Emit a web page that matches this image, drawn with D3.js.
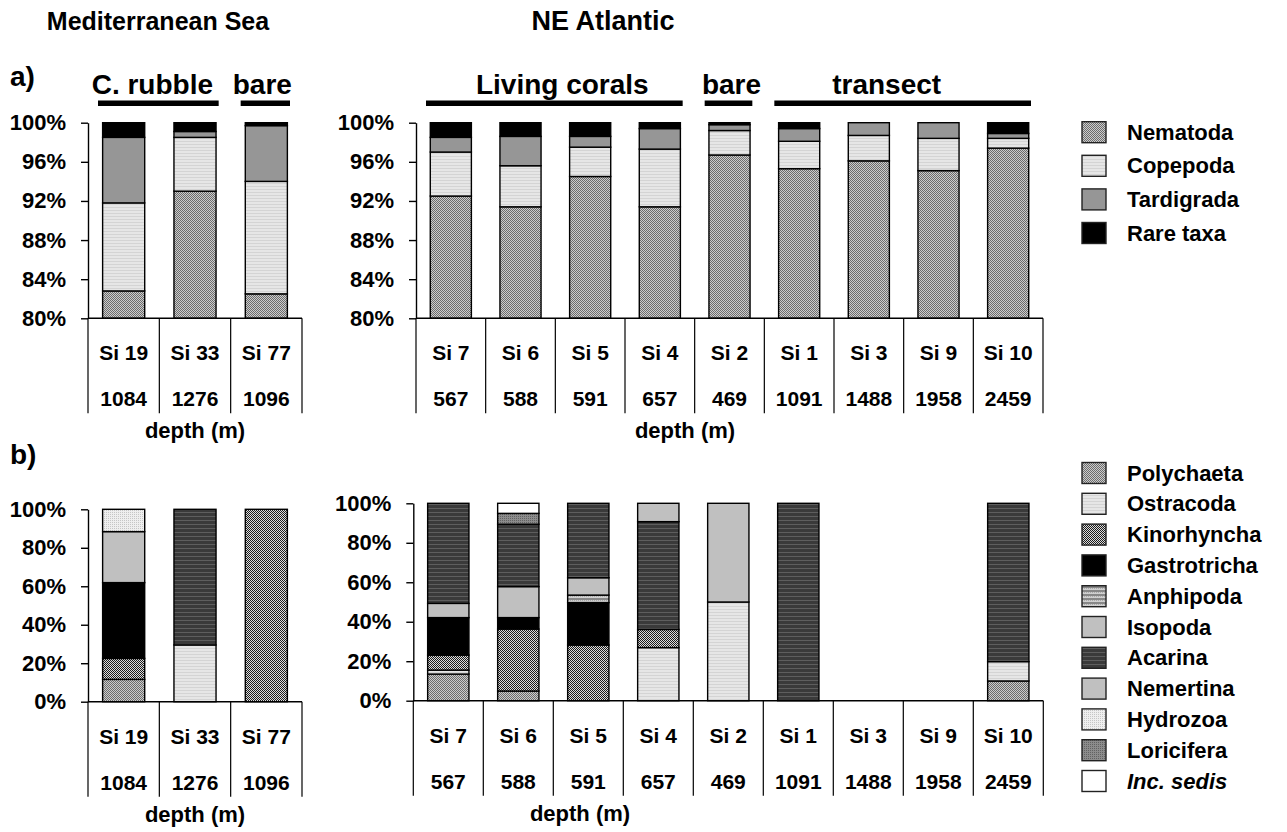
<!DOCTYPE html>
<html><head><meta charset="utf-8">
<script src="https://cdn.jsdelivr.net/npm/d3@7/dist/d3.min.js"></script>
<style>
body{margin:0;background:#fff}
text{font-family:"Liberation Sans",Arial,sans-serif;font-weight:bold;fill:#000}
</style>
</head><body>
<svg id="chart" width="1287" height="832"></svg>
<script>
// Stations (Mediterranean Sea | NE Atlantic) and their depths (m)
const medSites  = ["Si 19","Si 33","Si 77"];
const medDepths = ["1084","1276","1096"];
const atlSites  = ["Si 7","Si 6","Si 5","Si 4","Si 2","Si 1","Si 3","Si 9","Si 10"];
const atlDepths = ["567","588","591","657","469","1091","1488","1958","2459"];

// (a) relative abundance of the main taxa (%), order: Si 19, Si 33, Si 77 | Si 7 ... Si 10
const nematoda   = [82.8, 93.0, 82.5, 92.5, 91.4, 94.5, 91.4, 96.7, 95.3, 96.1, 95.1, 97.4];
const copepoda   = [ 9.0,  5.5, 11.5,  4.5,  4.2,  3.0,  5.9,  2.5,  2.8,  2.6,  3.3,  1.0];
const tardigrada = [ 6.7,  0.6,  5.7,  1.5,  3.0,  1.1,  2.1,  0.6,  1.3,  1.3,  1.6,  0.5];
const rareTaxa   = [ 1.5,  0.9,  0.3,  1.5,  1.4,  1.4,  0.6,  0.2,  0.6,  0.0,  0.0,  1.1];

// (b) composition of the rare taxa (%)
const polychaeta   = [11.6,  0.0,   0.0, 13.5,  4.9,  0.0,  0.0,  0.0,   0.0, 0, 0, 10.0];
const ostracoda    = [ 0.0, 29.5,   0.0,  2.0,  0.0,  0.0, 26.9, 50.0,   0.0, 0, 0,  9.8];
const kinorhyncha  = [10.9,  0.0, 100.0,  7.6, 31.4, 28.2,  9.2,  0.0,   0.0, 0, 0,  0.0];
const gastrotricha = [39.4,  0.0,   0.0, 19.0,  5.8, 21.5,  0.0,  0.0,   0.0, 0, 0,  0.0];
const anphipoda    = [ 0.0,  0.0,   0.0,  0.0,  0.0,  3.8,  0.0,  0.0,   0.0, 0, 0,  0.0];
const isopoda      = [26.5,  0.0,   0.0,  7.2, 15.7,  8.8,  0.0, 50.0,   0.0, 0, 0,  0.0];
const acarina      = [ 0.0, 70.5,   0.0, 50.7, 31.6, 37.7, 54.6,  0.0, 100.0, 0, 0, 80.2];
const nemertina    = [ 0.0,  0.0,   0.0,  0.0,  0.0,  0.0,  9.3,  0.0,   0.0, 0, 0,  0.0];
const hydrozoa     = [11.6,  0.0,   0.0,  0.0,  0.0,  0.0,  0.0,  0.0,   0.0, 0, 0,  0.0];
const loricifera   = [ 0.0,  0.0,   0.0,  0.0,  5.5,  0.0,  0.0,  0.0,   0.0, 0, 0,  0.0];
const incSedis     = [ 0.0,  0.0,   0.0,  0.0,  5.1,  0.0,  0.0,  0.0,   0.0, 0, 0,  0.0];

// Axis ticks
const ticksA = [80, 84, 88, 92, 96, 100];
const ticksB = [0, 20, 40, 60, 80, 100];

// Habitat groups shown above panel (a)
const groupsMed = [{label:"C. rubble", from:"Si 19", to:"Si 33"}, {label:"bare", from:"Si 77", to:"Si 77"}];
const groupsAtl = [{label:"Living corals", from:"Si 7", to:"Si 4"}, {label:"bare", from:"Si 2", to:"Si 2"},
                   {label:"transect", from:"Si 1", to:"Si 10"}];

const taxaA = [
  {name:"Nematoda",   values:nematoda,   fill:"url(#pNem)"},
  {name:"Copepoda",   values:copepoda,   fill:"url(#pLight)"},
  {name:"Tardigrada", values:tardigrada, fill:"#969696"},
  {name:"Rare taxa",  values:rareTaxa,   fill:"#000"}
];
const taxaB = [
  {name:"Polychaeta",   values:polychaeta,   fill:"url(#pNem)"},
  {name:"Ostracoda",    values:ostracoda,    fill:"url(#pLight)"},
  {name:"Kinorhyncha",  values:kinorhyncha,  fill:"url(#pKino)"},
  {name:"Gastrotricha", values:gastrotricha, fill:"#000"},
  {name:"Anphipoda",    values:anphipoda,    fill:"url(#pAnph)"},
  {name:"Isopoda",      values:isopoda,      fill:"#c0c0c0"},
  {name:"Acarina",      values:acarina,      fill:"url(#pAcar)"},
  {name:"Nemertina",    values:nemertina,    fill:"#c0c0c0"},
  {name:"Hydrozoa",     values:hydrozoa,     fill:"url(#pHydro)"},
  {name:"Loricifera",   values:loricifera,   fill:"url(#pLori)"},
  {name:"Inc. sedis",   values:incSedis,     fill:"#fff", italic:true}
];

const svg = d3.select("#chart");
const defs = svg.append("defs");

// Texture fills
function pattern(id, w, h, bg, cells) {
  const p = defs.append("pattern").attr("id", id).attr("patternUnits", "userSpaceOnUse")
    .attr("width", w).attr("height", h);
  p.append("rect").attr("width", w).attr("height", h).attr("fill", bg);
  cells.forEach(c => p.append("rect").attr("x", c[0]).attr("y", c[1]).attr("width", c[2]).attr("height", c[3]).attr("fill", c[4]));
}
pattern("pNem", 2, 2, "#cccccc", [[0,0,1,1,"#6c6c6c"],[1,1,1,1,"#6c6c6c"]]);
pattern("pLight", 4, 3, "#e6e6e6", [[0,0,4,1,"#d4d4d4"]]);
pattern("pKino", 2, 2, "#dcdcdc", [[0,0,1,1,"#1c1c1c"],[1,1,1,1,"#1c1c1c"]]);
pattern("pAnph", 2, 4, "#d0d0d0", [[0,2,2,2,"#888"],[0,0,1,1,"#aaa"]]);
pattern("pAcar", 4, 4, "#3a3a3a", [[0,0,4,1,"#5e5e5e"]]);
pattern("pHydro", 2, 2, "#efefef", [[0,0,1,1,"#c6c6c6"]]);
pattern("pLori", 2, 2, "#8c8c8c", [[0,0,1,1,"#626262"]]);

function rowsFor(taxa, start, sites) {
  return sites.map((s, i) => {
    const r = {site: s};
    taxa.forEach(t => r[t.name] = t.values[start + i]);
    return r;
  });
}

function drawPanel(o) {
  const x = d3.scaleBand().domain(o.sites).range([o.x0, o.x1]);
  const y = d3.scaleLinear().domain(o.domain).range([o.yBot, o.yTop]).clamp(true);
  const bw = x.bandwidth();
  const barW = bw * 0.59;
  const g = svg.append("g");
  const stack = d3.stack().keys(o.taxa.map(t => t.name))(o.rows);
  stack.forEach((layer, li) => {
    g.append("g").selectAll("rect")
      .data(layer.filter(d => d[1] - d[0] > 0 && y(d[0]) - y(d[1]) > 0))
      .join("rect")
      .attr("x", d => x(d.data.site) + (bw - barW) / 2)
      .attr("width", barW)
      .attr("y", d => y(d[1]))
      .attr("height", d => y(d[0]) - y(d[1]))
      .attr("fill", o.taxa[li].fill)
      .attr("stroke", "#000").attr("stroke-width", 1.4);
  });
  // y axis
  const ax = g.append("g").attr("transform", `translate(${o.x0},0)`)
    .call(d3.axisLeft(y).tickValues(o.ticks).tickFormat(d => d + "%").tickSize(7).tickSizeOuter(0).tickPadding(15));
  ax.attr("font-family", null).attr("font-size", null);
  ax.selectAll("text").style("font-size", "22px");
  ax.selectAll("line,path").attr("stroke", "#000").attr("stroke-width", 1.4);
  // category table below the axis
  g.append("line").attr("x1", o.x0).attr("x2", o.x1).attr("y1", o.yBot).attr("y2", o.yBot)
    .attr("stroke", "#000").attr("stroke-width", 1.4);
  const edges = o.sites.map(s => x(s)).concat([o.x1]);
  g.selectAll(".cell").data(edges).join("line")
    .attr("x1", d => d).attr("x2", d => d).attr("y1", o.yBot).attr("y2", o.yBot + 95)
    .attr("stroke", "#000").attr("stroke-width", 1.2);
  g.selectAll(".site").data(o.sites).join("text")
    .attr("x", d => x(d) + bw / 2).attr("y", o.yBot + 42).attr("text-anchor", "middle")
    .style("font-size", "21px").text(d => d);
  g.selectAll(".depth").data(o.depths).join("text")
    .attr("x", (d, i) => x(o.sites[i]) + bw / 2).attr("y", o.yBot + 88).attr("text-anchor", "middle")
    .style("font-size", "21px").text(d => d);
  g.append("text").attr("x", o.depthX).attr("y", o.yBot + 120).attr("text-anchor", "middle")
    .style("font-size", "22px").text("depth (m)");
  // habitat groups
  (o.groups || []).forEach(gr => {
    const a = x(gr.from) + 10, b = x(gr.to) + bw - 12;
    g.append("rect").attr("x", a).attr("y", 100.5).attr("width", b - a).attr("height", 5.5).attr("fill", "#000");
    g.append("text").attr("x", (a + b) / 2 + gr.dx).attr("y", 94).attr("text-anchor", "middle")
      .style("font-size", "28px").text(gr.label);
  });
}

groupsMed[0].dx = -6; groupsMed[1].dx = -3;
groupsAtl[0].dx = 8; groupsAtl[1].dx = 3; groupsAtl[2].dx = -16;

drawPanel({sites: medSites, depths: medDepths, taxa: taxaA, rows: rowsFor(taxaA, 0, medSites),
  x0: 88, x1: 302, yTop: 122.7, yBot: 318.3, domain: [80, 100], ticks: ticksA, depthX: 195, groups: groupsMed});
drawPanel({sites: atlSites, depths: atlDepths, taxa: taxaA, rows: rowsFor(taxaA, 3, atlSites),
  x0: 416, x1: 1043, yTop: 122.7, yBot: 318.3, domain: [80, 100], ticks: ticksA, depthX: 685, groups: groupsAtl});
drawPanel({sites: medSites, depths: medDepths, taxa: taxaB, rows: rowsFor(taxaB, 0, medSites),
  x0: 88, x1: 302, yTop: 509.3, yBot: 701.7, domain: [0, 100], ticks: ticksB, depthX: 195});
drawPanel({sites: atlSites, depths: atlDepths, taxa: taxaB, rows: rowsFor(taxaB, 3, atlSites),
  x0: 413.3, x1: 1043.3, yTop: 503.3, yBot: 700.7, domain: [0, 100], ticks: ticksB, depthX: 580});

// titles and panel letters
svg.append("text").attr("x", 158).attr("y", 30).attr("text-anchor", "middle").style("font-size", "25px").text("Mediterranean Sea");
svg.append("text").attr("x", 603).attr("y", 30).attr("text-anchor", "middle").style("font-size", "27px").text("NE Atlantic");
svg.append("text").attr("x", 10).attr("y", 86).style("font-size", "28px").text("a)");
svg.append("text").attr("x", 10).attr("y", 464).style("font-size", "28px").text("b)");

// legends
function legend(items, x, y0, step) {
  const lg = svg.append("g");
  items.forEach((t, i) => {
    const yy = y0 + i * step;
    lg.append("rect").attr("x", x).attr("y", yy).attr("width", 24).attr("height", 21)
      .attr("fill", t.fill).attr("stroke", "#222").attr("stroke-width", 1.4);
    lg.append("text").attr("x", x + 45).attr("y", yy + 18).style("font-size", "22px")
      .style("font-style", t.italic ? "italic" : null).text(t.name);
  });
}
legend(taxaA, 1082, 121.7, 33.6);
legend(taxaB, 1082, 462.5, 30.8);
</script>
</body></html>
